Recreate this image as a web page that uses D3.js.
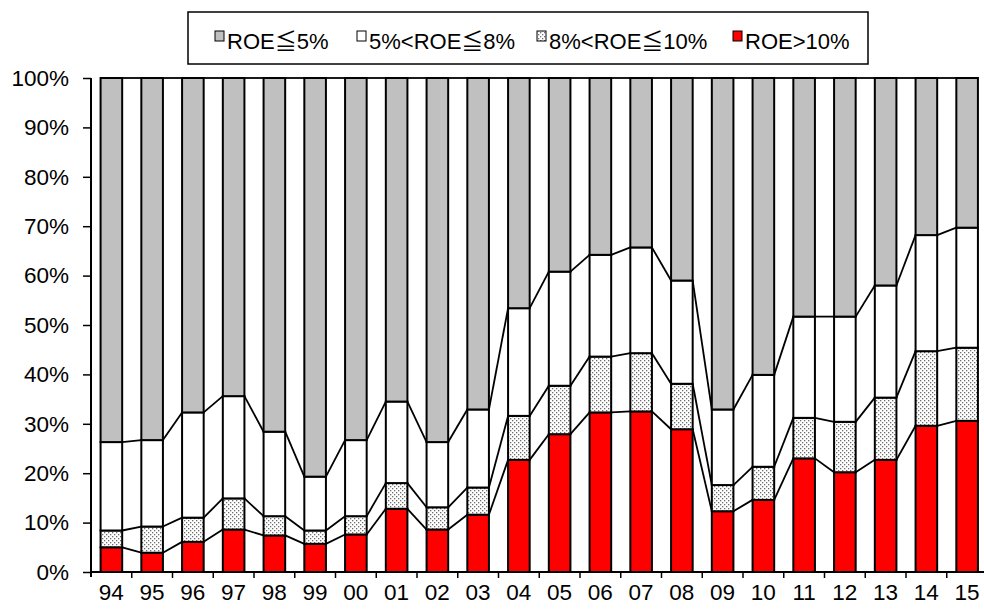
<!DOCTYPE html>
<html>
<head>
<meta charset="utf-8">
<script src="https://cdn.jsdelivr.net/npm/d3@7"></script>
<style>
  html, body { margin: 0; padding: 0; background: #fff; overflow: hidden; }
  svg { display: block; }
  text { font-family: "Liberation Sans", Arial, "Noto Sans CJK JP", sans-serif; fill: #000; }
</style>
</head>
<body>
<svg id="chart" width="984" height="611"></svg>
<script>
// ---- data (percent of firms) ----
const categories = ["94","95","96","97","98","99","00","01","02","03","04","05","06","07","08","09","10","11","12","13","14","15"];
const roeOver10   = [5.0, 3.9, 6.1, 8.6, 7.4, 5.7, 7.6, 12.8, 8.6, 11.6, 22.7, 27.9, 32.3, 32.5, 28.9, 12.3, 14.6, 23.0, 20.2, 22.7, 29.6, 30.6];
const roe8to10    = [3.4, 5.3, 4.9, 6.3, 3.9, 2.7, 3.7, 5.2, 4.5, 5.5, 8.9, 9.8, 11.3, 11.8, 9.2, 5.3, 6.7, 8.2, 10.2, 12.6, 15.1, 14.8];
const roe5to8     = [17.9, 17.5, 21.3, 20.7, 17.1, 10.9, 15.4, 16.5, 13.2, 15.8, 21.8, 23.1, 20.6, 21.4, 20.9, 15.3, 18.6, 20.5, 21.3, 22.7, 23.5, 24.3];
const roeUnder5   = [73.7, 73.3, 67.7, 64.4, 71.6, 80.7, 73.3, 65.5, 73.7, 67.1, 46.6, 39.2, 35.8, 34.3, 41.0, 67.1, 60.1, 48.3, 48.3, 42.0, 31.8, 30.3];
const seriesNames = ["ROE>10%", "8%<ROE≦10%", "5%<ROE≦8%", "ROE≦5%"];   // bottom to top
const legendOrder = ["ROE≦5%", "5%<ROE≦8%", "8%<ROE≦10%", "ROE>10%"];
const yTicks = [0, 10, 20, 30, 40, 50, 60, 70, 80, 90, 100];

const rows = categories.map((c, i) => ({
  cat: c,
  "ROE>10%": roeOver10[i],
  "8%<ROE≦10%": roe8to10[i],
  "5%<ROE≦8%": roe5to8[i],
  "ROE≦5%": roeUnder5[i]
}));

const svg = d3.select("#chart");
const defs = svg.append("defs");
const pat = defs.append("pattern").attr("id", "dots").attr("patternUnits", "userSpaceOnUse")
  .attr("width", 4).attr("height", 4);
pat.append("rect").attr("width", 4).attr("height", 4).attr("fill", "#fff");
pat.append("rect").attr("x", 0).attr("y", 0).attr("width", 1.3).attr("height", 1.3).attr("fill", "#6e6e6e");
pat.append("rect").attr("x", 2).attr("y", 2).attr("width", 1.3).attr("height", 1.3).attr("fill", "#6e6e6e");

const fills = {
  "ROE>10%": "#FF0000",
  "8%<ROE≦10%": "url(#dots)",
  "5%<ROE≦8%": "#FFFFFF",
  "ROE≦5%": "#C0C0C0"
};

const pLeft = 91, pRight = 987.5, pTop = 78, pBottom = 572;
const x = d3.scaleBand().domain(categories).range([pLeft, pRight]).paddingInner(0.47).paddingOuter(0.235);
const y = d3.scaleLinear().domain([0, 100]).range([pBottom, pTop]);

const stack = d3.stack().keys(seriesNames);
const layers = stack(rows);
const bw = x.bandwidth();

// series lines
layers.forEach(layer => {
  const segs = [];
  for (let i = 0; i < layer.length - 1; i++) {
    segs.push([[x(categories[i]) + bw, y(layer[i][1])], [x(categories[i + 1]), y(layer[i + 1][1])]]);
  }
  svg.append("g").selectAll("line").data(segs).join("line")
    .attr("x1", d => d[0][0]).attr("y1", d => d[0][1])
    .attr("x2", d => d[1][0]).attr("y2", d => d[1][1])
    .attr("stroke", "#000").attr("stroke-width", 1.8);
});

// bars
const g = svg.append("g");
layers.forEach(layer => {
  g.append("g").selectAll("rect").data(layer).join("rect")
    .attr("x", d => x(d.data.cat))
    .attr("y", d => y(d[1]))
    .attr("width", bw)
    .attr("height", d => y(d[0]) - y(d[1]))
    .attr("fill", fills[layer.key])
    .attr("stroke", "#000")
    .attr("stroke-width", 2);
});

// y axis
const yAxis = d3.axisLeft(y).tickValues(yTicks).tickFormat(d => d + "%").tickSize(8).tickPadding(14);
const ya = svg.append("g").attr("transform", `translate(${pLeft},0)`).call(yAxis);
ya.select(".domain").remove();
ya.selectAll("line").attr("stroke", "#000").attr("stroke-width", 1.5);
ya.selectAll("text").style("font-size", "22.5px");
svg.append("line").attr("x1", pLeft).attr("x2", pLeft).attr("y1", pTop).attr("y2", pBottom + 5)
  .attr("stroke", "#000").attr("stroke-width", 2);

// x axis
svg.append("line").attr("x1", pLeft).attr("x2", pRight).attr("y1", pBottom).attr("y2", pBottom)
  .attr("stroke", "#000").attr("stroke-width", 2);
const bounds = categories.map(c => x(c) + bw + (x.step() - bw) / 2);
svg.append("g").selectAll("line").data(bounds).join("line")
  .attr("x1", d => d).attr("x2", d => d).attr("y1", pBottom).attr("y2", pBottom + 6)
  .attr("stroke", "#000").attr("stroke-width", 1.5);
svg.append("g").selectAll("text").data(categories).join("text")
  .attr("x", d => x(d) + bw / 2).attr("y", 600)
  .attr("text-anchor", "middle").style("font-size", "22.5px").text(d => d);

// legend
const lg = svg.append("g");
lg.append("rect").attr("x", 188).attr("y", 12).attr("width", 680).attr("height", 52)
  .attr("fill", "#fff").attr("stroke", "#000").attr("stroke-width", 1.5);
const legendX = [215, 357, 537, 733];
legendOrder.forEach((name, i) => {
  const lx = legendX[i];
  lg.append("rect").attr("x", lx).attr("y", 31).attr("width", 9).attr("height", 10)
    .attr("fill", fills[name]).attr("stroke", "#000").attr("stroke-width", 1);
  lg.append("text").attr("x", lx + 12).attr("y", 49).style("font-size", "22px").text(name);
});
</script>
</body>
</html>
